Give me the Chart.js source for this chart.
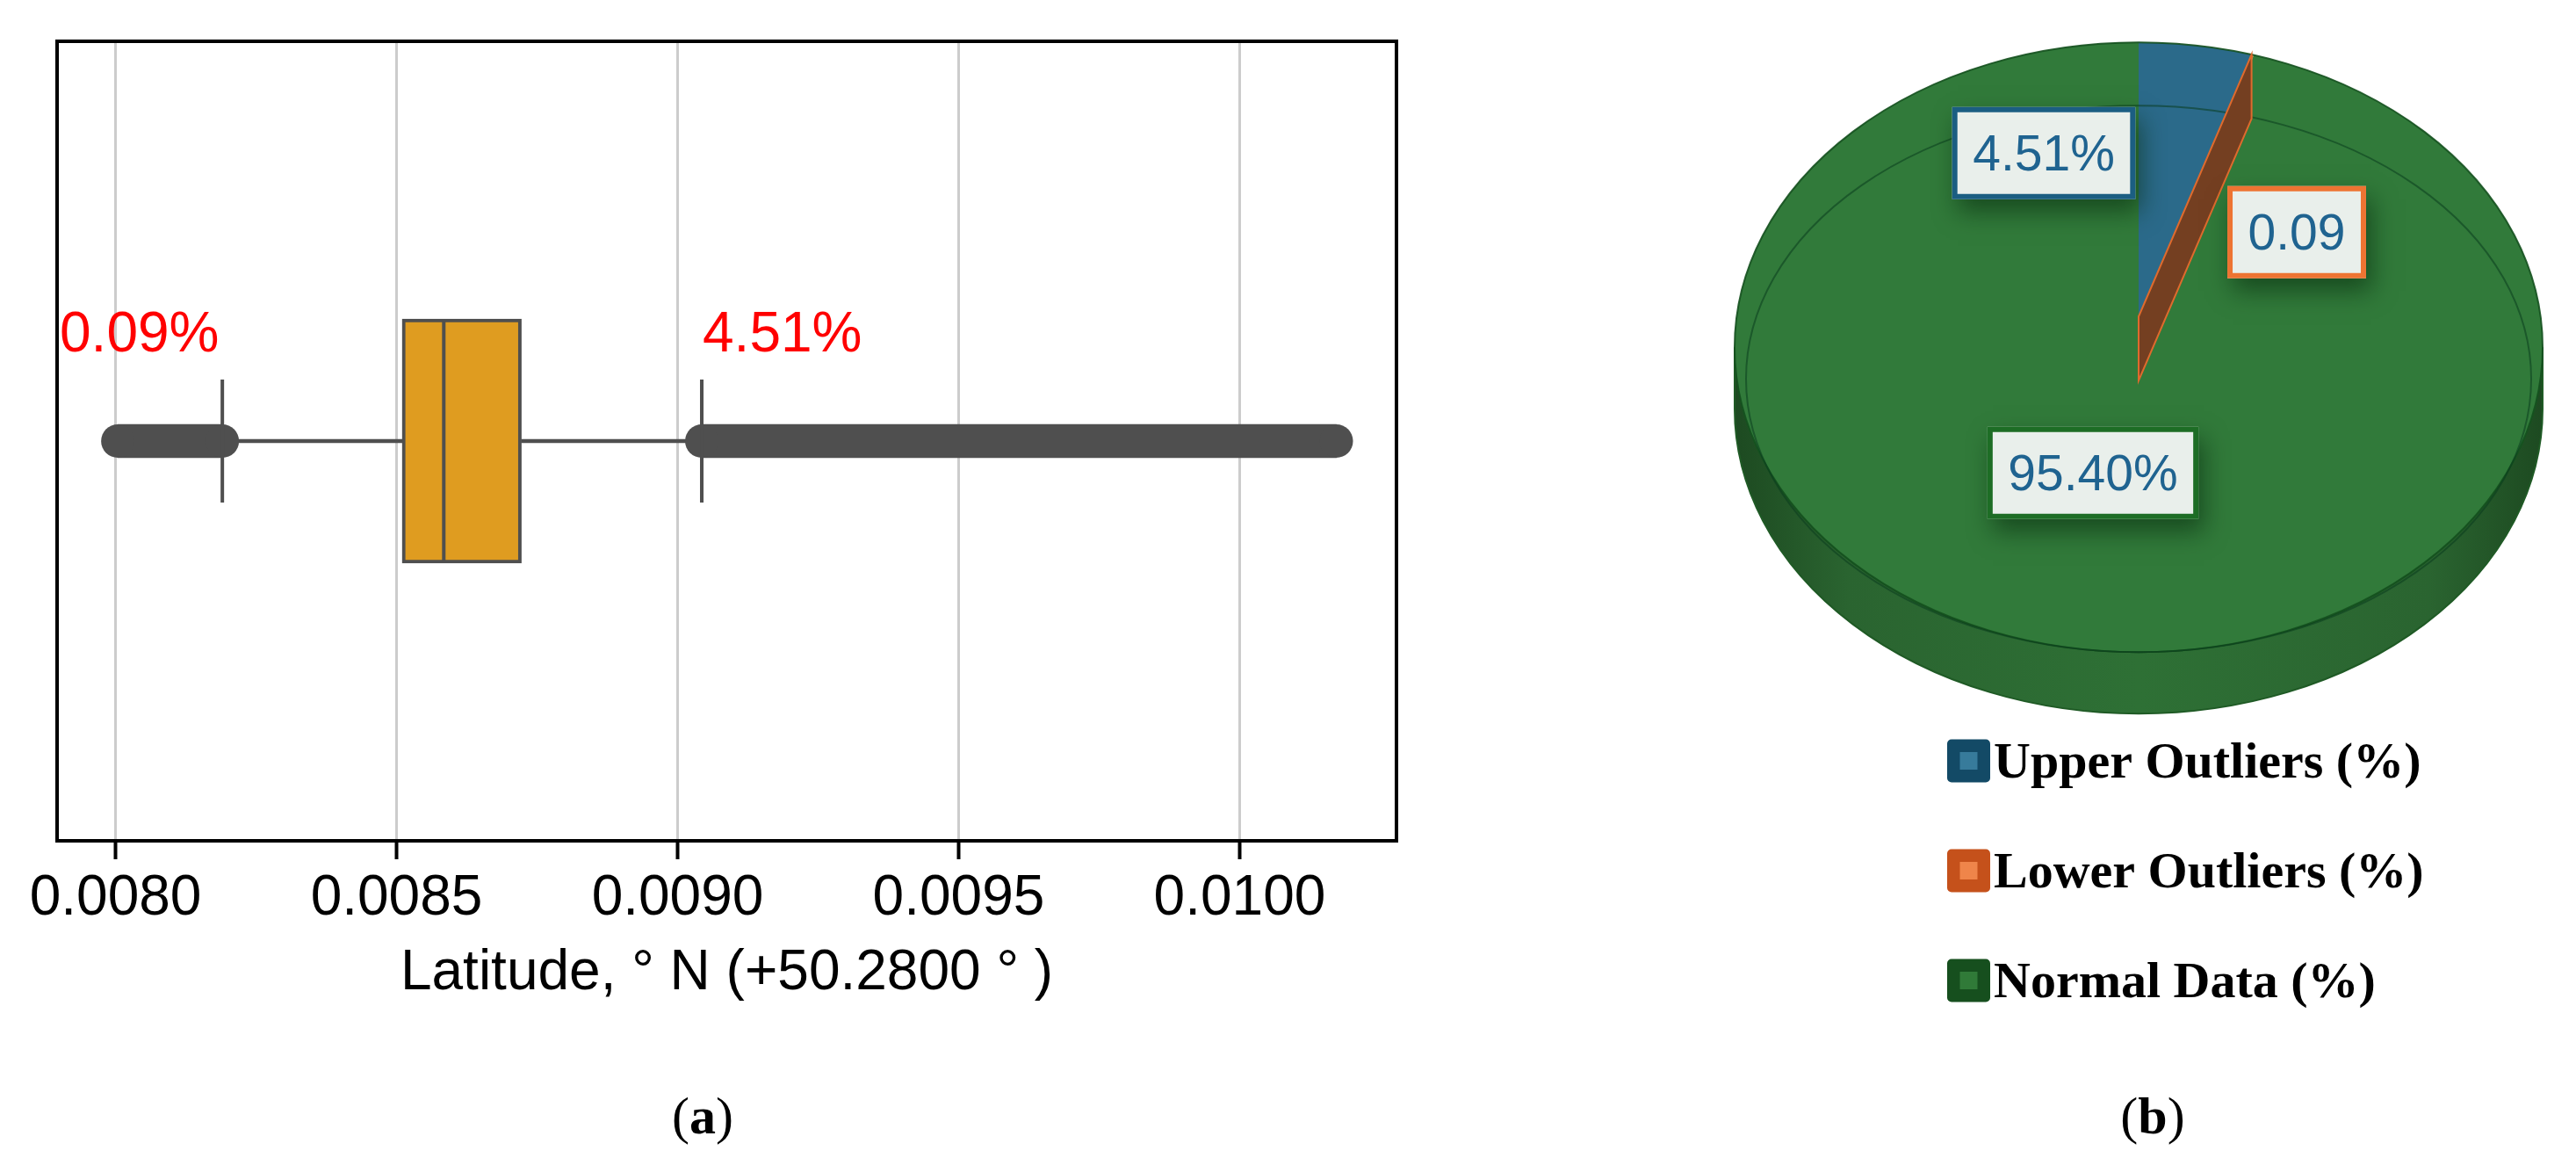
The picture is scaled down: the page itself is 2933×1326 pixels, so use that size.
<!DOCTYPE html>
<html>
<head>
<meta charset="utf-8">
<script src="https://cdn.jsdelivr.net/npm/chart.js@4.4.1/dist/chart.umd.min.js"></script>
<style>
  html, body { margin: 0; padding: 0; background: #fff; }
  body { width: 2933px; height: 1326px; position: relative; overflow: hidden; }
  #boxWrap { position: absolute; left: 0; top: 0; }
  #pieWrap { position: absolute; left: 1650px; top: 0; }
  .cap { position: absolute; top: 1232px; width: 200px; text-align: center;
         font: 60px 'Liberation Serif', serif; line-height: 76px; color: #000; }
</style>
</head>
<body>
<div id="boxWrap"><canvas id="boxChart" width="1660" height="1200"></canvas></div>
<div id="pieWrap"><canvas id="pieChart" width="1283" height="1326"></canvas></div>
<div class="cap" style="left:700px">(<b>a</b>)</div>
<div class="cap" style="left:2351px">(<b>b</b>)</div>
<script>
// latitude box plot, values are offsets from 50.2800 deg N
const categories = ['Latitude'];
const tickValues = [0.0080, 0.0085, 0.0090, 0.0095, 0.0100];
const axisRange = [0.007896, 0.010279];
const quartiles = [0.008510, 0.008584, 0.008722];   // Q1, median, Q3
const whiskers = [0.008190, 0.009043];
const lowerOutliers = [0.008004, 0.008190];          // first / last lower outlier
const upperOutliers = [0.009043, 0.010172];          // first / last upper outlier

// share of points (pie)
const pieLabels = ['Upper Outliers (%)', 'Lower Outliers (%)', 'Normal Data (%)'];
const pieValues = [4.51, 0.09, 95.40];
const pieSuffix = ['%', '', '%'];

const GREY = '#4f4f4f';
const SANS = "'Liberation Sans', Arial, sans-serif";
const SERIF = "'Liberation Serif', 'Times New Roman', serif";

// ---------- (a) box plot ----------
const cat = categories[0];
const pts = vals => vals.map(v => ({ x: v, y: cat }));

const boxExtras = {
    id: 'boxExtras',
    afterDatasetsDraw(chart) {
        const { ctx, chartArea: a, scales: { x, y } } = chart;
        const yMid = y.getPixelForValue(0);
        ctx.save();
        ctx.fillStyle = '#ff0000';
        ctx.font = '64px ' + SANS;
        ctx.textBaseline = 'alphabetic';
        ctx.fillText(pieValues[1].toFixed(2) + '%', a.left + 3, yMid - 102);
        ctx.fillText(pieValues[0].toFixed(2) + '%', x.getPixelForValue(whiskers[1]) + 1, yMid - 102);
        ctx.restore();
    },
    afterDraw(chart) {
        const { ctx, chartArea: a } = chart;
        ctx.save();
        ctx.strokeStyle = '#000';
        ctx.lineWidth = 4;
        ctx.strokeRect(a.left, a.top, a.right - a.left, a.bottom - a.top);
        ctx.restore();
    }
};

new Chart(document.getElementById('boxChart'), {
    type: 'bar',
    data: {
        labels: categories,
        datasets: [
            { type: 'scatter', data: pts([quartiles[1]]), pointStyle: 'line', rotation: 90,
              pointRadius: 137, borderColor: GREY, borderWidth: 4, order: 0 },
            { type: 'scatter', data: pts(whiskers), pointStyle: 'line', rotation: 90,
              pointRadius: 70, borderColor: GREY, borderWidth: 4, order: 1 },
            { data: [[quartiles[0], quartiles[2]]], barThickness: 278, grouped: false,
              backgroundColor: '#df9c20', borderColor: GREY, borderWidth: 4, borderSkipped: false, order: 2 },
            { type: 'scatter', data: pts([...lowerOutliers, ...upperOutliers]), pointRadius: 19,
              backgroundColor: GREY, borderWidth: 0, order: 3 },
            { data: [lowerOutliers], barThickness: 38, grouped: false, backgroundColor: GREY, order: 3 },
            { data: [upperOutliers], barThickness: 38, grouped: false, backgroundColor: GREY, order: 3 },
            { data: [[whiskers[0], quartiles[0]]], barThickness: 4, grouped: false, backgroundColor: GREY, order: 4 },
            { data: [[quartiles[2], whiskers[1]]], barThickness: 4, grouped: false, backgroundColor: GREY, order: 4 }
        ]
    },
    options: {
        indexAxis: 'y',
        responsive: false,
        devicePixelRatio: 1,
        animation: false,
        events: [],
        layout: { autoPadding: false, padding: { left: 65, right: 70, top: 47, bottom: 0 } },
        plugins: { legend: { display: false }, tooltip: { enabled: false } },
        scales: {
            y: { type: 'category', display: false, offset: true },
            x: {
                type: 'linear',
                min: axisRange[0],
                max: axisRange[1],
                afterBuildTicks: s => { s.ticks = tickValues.map(v => ({ value: v })); },
                afterFit: s => { s.height = 243; },
                border: { display: false },
                grid: { color: '#cccccc', lineWidth: 3, tickColor: '#000', tickWidth: 4, tickLength: 21 },
                ticks: {
                    color: '#000', padding: 7, maxRotation: 0, autoSkip: false,
                    font: { family: SANS, size: 64 },
                    callback: v => Number(v).toFixed(4)
                },
                title: {
                    display: true,
                    text: 'Latitude, \u00B0 N (+50.2800 \u00B0 )',
                    color: '#000',
                    font: { family: SANS, size: 64 },
                    padding: { top: 0, bottom: 53 }
                }
            }
        }
    },
    plugins: [boxExtras]
});

// ---------- (b) pie ----------
const pieColors = ['#2b6a8a', '#e36c2c', '#317a3a'];
const tagBorders = ['#1b5e82', '#ee7432', '#1d6d25'];
const tagOffsets = [[-108, -221], [180, -131], [-52, 143]];   // from pie centre
const legendOuter = ['#134a66', '#c5511b', '#164f1e'];
const legendInner = ['#377b9b', '#ef854a', '#307a38'];
const TILT = 0.7543;
const DEPTH = 70;
const PERSP = 35;   // apparent centre sits a bit higher than the ellipse centre

function drawTag(ctx, text, cx, cy, border) {
    ctx.save();
    ctx.font = '57px ' + SANS;
    const w = ctx.measureText(text).width + 47, h = 105;
    const x = cx - w / 2, y = cy - h / 2;
    ctx.shadowColor = 'rgba(8,45,15,0.6)';
    ctx.shadowBlur = 26;
    ctx.shadowOffsetX = 6;
    ctx.shadowOffsetY = 14;
    ctx.fillStyle = '#e9efeb';
    ctx.fillRect(x, y, w, h);
    ctx.shadowColor = 'transparent';
    ctx.strokeStyle = border;
    ctx.lineWidth = 6;
    ctx.strokeRect(x + 3, y + 3, w - 6, h - 6);
    ctx.fillStyle = '#1f6390';
    ctx.textAlign = 'center';
    ctx.textBaseline = 'alphabetic';
    ctx.fillText(text, cx, cy + 20);
    ctx.restore();
}

const pie3d = {
    id: 'pie3d',
    beforeDatasetsDraw(chart) {
        const ctx = chart.ctx;
        const arc = chart.getDatasetMeta(0).data[0];
        const cx = arc.x, cy = arc.y * TILT, rx = arc.outerRadius, ry = rx * TILT;
        const g = ctx.createLinearGradient(cx - rx, 0, cx + rx, 0);
        g.addColorStop(0, '#1d4a21');
        g.addColorStop(0.14, '#2a6430');
        g.addColorStop(0.5, '#2e7035');
        g.addColorStop(0.86, '#2a6430');
        g.addColorStop(1, '#1d4a21');
        ctx.save();
        ctx.beginPath();
        ctx.ellipse(cx, cy + DEPTH, rx, ry, 0, 0, Math.PI);
        ctx.ellipse(cx, cy, rx, ry, 0, Math.PI, 0, true);
        ctx.closePath();
        ctx.fillStyle = g;
        ctx.fill();
        ctx.strokeStyle = '#1f5a25';
        ctx.lineWidth = 2;
        ctx.stroke();
        ctx.restore();
        // squash the flat pie into the tilted top face
        ctx.save();
        ctx.scale(1, TILT);
    },
    afterDatasetsDraw(chart) {
        const ctx = chart.ctx;
        ctx.restore();
        const meta = chart.getDatasetMeta(0);
        const arc = meta.data[0];
        const cx = arc.x, cy = arc.y * TILT, rx = arc.outerRadius, ry = rx * TILT;

        ctx.save();
        // rim and inner bevel line
        ctx.lineWidth = 2;
        ctx.strokeStyle = 'rgba(20,80,30,0.9)';
        ctx.beginPath();
        ctx.ellipse(cx, cy, rx, ry, 0, 0, Math.PI * 2);
        ctx.stroke();
        ctx.strokeStyle = 'rgba(10,60,30,0.55)';
        ctx.beginPath();
        ctx.ellipse(cx, cy + 36, rx - 13, ry - 36, 0, 0, Math.PI * 2);
        ctx.stroke();

        // cut face of the lower-outlier slice
        const a = meta.data[1].startAngle;
        const px = cx + rx * Math.cos(a), py = cy + ry * Math.sin(a);
        const ay = cy - PERSP;
        ctx.beginPath();
        ctx.moveTo(px, py);
        ctx.lineTo(px, py + 73);
        ctx.lineTo(cx, ay + 73);
        ctx.lineTo(cx, ay);
        ctx.closePath();
        ctx.fillStyle = '#743f21';
        ctx.fill();
        ctx.strokeStyle = '#df6a2d';
        ctx.lineWidth = 2;
        ctx.stroke();
        ctx.restore();

        // value tags
        pieValues.forEach((v, i) => {
            drawTag(ctx, v.toFixed(2) + pieSuffix[i], cx + tagOffsets[i][0], cy + tagOffsets[i][1], tagBorders[i]);
        });

        // legend
        ctx.save();
        chart.data.labels.forEach((lab, i) => {
            const yc = 866 + i * 125, x0 = 567;
            ctx.fillStyle = legendOuter[i];
            ctx.beginPath();
            ctx.roundRect(x0, yc - 24.5, 49, 49, 5);
            ctx.fill();
            ctx.fillStyle = legendInner[i];
            ctx.fillRect(x0 + 14.5, yc - 10, 20, 20);
            ctx.fillStyle = '#000';
            ctx.font = 'bold 58px ' + SERIF;
            ctx.textBaseline = 'alphabetic';
            ctx.fillText(lab, 620, yc + 19);
        });
        ctx.restore();
    }
};

new Chart(document.getElementById('pieChart'), {
    type: 'pie',
    data: {
        labels: pieLabels,
        datasets: [{ data: pieValues, backgroundColor: pieColors, borderWidth: 0, clip: false }]
    },
    options: {
        responsive: false,
        devicePixelRatio: 1,
        animation: false,
        events: [],
        layout: { autoPadding: false, padding: { left: 325, right: 38, top: 64, bottom: 342 } },
        plugins: { legend: { display: false }, tooltip: { enabled: false } }
    },
    plugins: [pie3d]
});
</script>
</body>
</html>
